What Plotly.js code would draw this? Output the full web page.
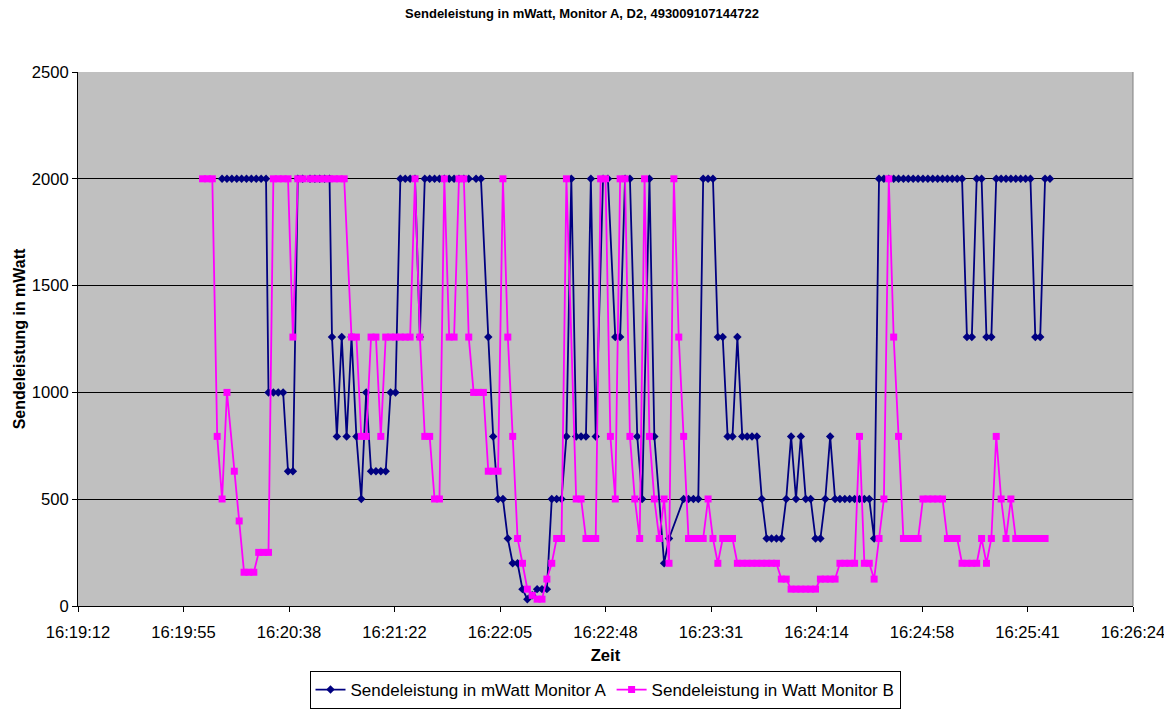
<!DOCTYPE html>
<html>
<head>
<meta charset="utf-8">
<script src="https://cdn.plot.ly/plotly-3.0.1.min.js"></script>
<style>
html,body{margin:0;padding:0;background:#fff;}
#chart{width:1164px;height:711px;}
</style>
</head>
<body>
<div id="chart"></div>
<script>
// X-axis tick labels (Excel date axis, step 43.2 s)
const xTickLabels = ["16:19:12","16:19:55","16:20:38","16:21:22","16:22:05","16:22:48","16:23:31","16:24:14","16:24:58","16:25:41","16:26:24"];
const yTickValues = [0, 500, 1000, 1500, 2000, 2500];

// Series A: Sendeleistung in mWatt Monitor A
const timeA = [
"16:20:11","16:20:13","16:20:15","16:20:17","16:20:19","16:20:21","16:20:23","16:20:25","16:20:27","16:20:29",
"16:20:30","16:20:32","16:20:34","16:20:36",
"16:20:38","16:20:40",
"16:20:42","16:20:44","16:20:47","16:20:49","16:20:51","16:20:53","16:20:55",
"16:20:56","16:20:58","16:21:00","16:21:02","16:21:04","16:21:06","16:21:08","16:21:10",
"16:21:12","16:21:14","16:21:16","16:21:18",
"16:21:20","16:21:22",
"16:21:24","16:21:26","16:21:28","16:21:30",
"16:21:32",
"16:21:34","16:21:36","16:21:38","16:21:40","16:21:42","16:21:44","16:21:46","16:21:48","16:21:50","16:21:52","16:21:55","16:21:57",
"16:22:00","16:22:02","16:22:04","16:22:06","16:22:08","16:22:10","16:22:12","16:22:14","16:22:16","16:22:18",
"16:22:20","16:22:22","16:22:24","16:22:26","16:22:28","16:22:30","16:22:32","16:22:34","16:22:36","16:22:38",
"16:22:40","16:22:42","16:22:44","16:22:47","16:22:49","16:22:52","16:22:54","16:22:56","16:22:58",
"16:23:01","16:23:03","16:23:06","16:23:08","16:23:12","16:23:14",
"16:23:20","16:23:22","16:23:24","16:23:26",
"16:23:28","16:23:30","16:23:32",
"16:23:34","16:23:36","16:23:38","16:23:40","16:23:42",
"16:23:44","16:23:46","16:23:48","16:23:50","16:23:52",
"16:23:54","16:23:56","16:23:58","16:24:00",
"16:24:02","16:24:04","16:24:06","16:24:08","16:24:10","16:24:12","16:24:14","16:24:16","16:24:18","16:24:20",
"16:24:22","16:24:24","16:24:26","16:24:28","16:24:30","16:24:32","16:24:34","16:24:36",
"16:24:38",
"16:24:40","16:24:42","16:24:44","16:24:46","16:24:48","16:24:50","16:24:52","16:24:54","16:24:56","16:24:58",
"16:25:00","16:25:02","16:25:04","16:25:06","16:25:08","16:25:10","16:25:12","16:25:14",
"16:25:16","16:25:18","16:25:20","16:25:22","16:25:24","16:25:26",
"16:25:28","16:25:30","16:25:32","16:25:34","16:25:36","16:25:38","16:25:40","16:25:42",
"16:25:44","16:25:46","16:25:48","16:25:50"
];
const valuesA = [
2000,2000,2000,2000,2000,2000,2000,2000,2000,2000,
1000,1000,1000,1000,
631,631,
2000,2000,2000,2000,2000,2000,2000,
1259,794,1259,794,1259,794,501,1000,
631,631,631,631,
1000,1000,
2000,2000,2000,2000,
1259,
2000,2000,2000,2000,2000,2000,2000,2000,2000,2000,2000,2000,
1259,794,501,501,316,200,200,79,32,50,
79,79,79,501,501,501,794,2000,794,794,
794,2000,794,2000,2000,1259,1259,2000,2000,
794,501,2000,794,200,316,
501,501,501,501,
2000,2000,2000,
1259,1259,794,794,1259,
794,794,794,794,501,
316,316,316,316,
501,794,501,794,501,501,316,316,501,794,
501,501,501,501,501,501,501,501,
316,
2000,2000,2000,2000,2000,2000,2000,2000,2000,2000,
2000,2000,2000,2000,2000,2000,2000,2000,
1259,1259,2000,2000,1259,1259,
2000,2000,2000,2000,2000,2000,2000,2000,
1259,1259,2000,2000
];

// Series B: Sendeleistung in Watt Monitor B
const timeB = [
"16:20:03","16:20:05","16:20:07","16:20:09","16:20:11","16:20:13","16:20:16","16:20:18",
"16:20:20","16:20:22","16:20:24","16:20:26","16:20:28","16:20:30",
"16:20:32","16:20:34","16:20:36","16:20:38","16:20:40",
"16:20:42","16:20:44","16:20:47","16:20:49","16:20:51","16:20:53","16:20:55","16:20:57","16:20:59","16:21:01",
"16:21:04","16:21:06","16:21:08","16:21:10","16:21:12","16:21:14","16:21:16",
"16:21:18","16:21:20","16:21:22","16:21:24","16:21:26","16:21:28",
"16:21:30","16:21:32","16:21:34","16:21:36","16:21:38","16:21:40","16:21:42","16:21:44","16:21:46","16:21:48","16:21:50","16:21:52",
"16:21:54","16:21:56","16:21:58","16:22:00","16:22:02","16:22:04",
"16:22:06","16:22:08","16:22:10","16:22:12","16:22:14","16:22:16","16:22:18","16:22:20","16:22:22","16:22:24","16:22:26","16:22:28","16:22:30",
"16:22:32","16:22:36","16:22:38","16:22:40","16:22:42","16:22:44","16:22:46","16:22:48","16:22:50","16:22:52","16:22:54","16:22:56","16:22:58",
"16:23:00","16:23:02","16:23:04","16:23:06","16:23:08","16:23:10","16:23:12","16:23:14","16:23:16","16:23:18","16:23:20",
"16:23:22","16:23:24","16:23:26","16:23:28","16:23:30","16:23:32","16:23:34","16:23:36","16:23:38","16:23:40",
"16:23:42","16:23:44","16:23:46","16:23:48","16:23:50","16:23:52","16:23:54","16:23:56","16:23:58",
"16:24:00","16:24:02","16:24:04","16:24:06","16:24:08","16:24:10","16:24:12","16:24:14",
"16:24:16","16:24:18","16:24:20","16:24:22","16:24:24","16:24:26","16:24:28","16:24:30",
"16:24:32","16:24:34","16:24:36","16:24:38","16:24:40","16:24:42","16:24:44","16:24:46","16:24:48",
"16:24:50","16:24:52","16:24:54","16:24:56","16:24:58","16:25:00","16:25:02","16:25:04","16:25:06",
"16:25:08","16:25:10","16:25:12","16:25:14","16:25:16","16:25:18","16:25:20",
"16:25:22","16:25:24","16:25:26","16:25:28","16:25:30","16:25:32","16:25:34",
"16:25:36","16:25:38","16:25:40","16:25:42","16:25:44","16:25:46","16:25:48"
];
const valuesB = [
2000,2000,2000,794,501,1000,631,398,
158,158,158,251,251,251,
2000,2000,2000,2000,1259,
2000,2000,2000,2000,2000,2000,2000,2000,2000,2000,
1259,1259,794,794,1259,1259,794,
1259,1259,1259,1259,1259,1259,
2000,1259,794,794,501,501,2000,1259,1259,2000,2000,1259,
1000,1000,1000,631,631,631,
2000,1259,794,316,200,79,50,32,32,126,200,316,316,
2000,501,501,316,316,316,2000,2000,794,501,2000,2000,794,
501,316,2000,794,501,316,501,200,2000,1259,794,
316,316,316,316,501,316,200,316,316,316,
200,200,200,200,200,200,200,200,200,
126,126,79,79,79,79,79,79,
126,126,126,126,200,200,200,200,
794,200,200,126,316,501,2000,1259,794,
316,316,316,316,501,501,501,501,501,
316,316,316,200,200,200,200,
316,200,316,794,501,316,501,
316,316,316,316,316,316,316
];

function toSec(t){ const p = t.split(':').map(Number); return p[0]*3600 + p[1]*60 + p[2]; }

const xStart = toSec(xTickLabels[0]);
const xEnd = toSec(xTickLabels[xTickLabels.length-1]);
const nTicks = xTickLabels.length - 1;
const xTickVals = xTickLabels.map((_, i) => i === nTicks ? xEnd : xStart + (xEnd - xStart) * i / nTicks);

const FONT = 'Arial, "Liberation Sans", Helvetica, sans-serif';

const traceA = {
  x: timeA.map(toSec), y: valuesA,
  type: 'scatter', mode: 'lines+markers',
  name: 'Sendeleistung in mWatt Monitor A',
  line: {color: '#000080', width: 1.8},
  marker: {symbol: 'diamond', size: 6.5, color: '#000080', line: {width: 0}}
};
const traceB = {
  x: timeB.map(toSec), y: valuesB,
  type: 'scatter', mode: 'lines+markers',
  name: 'Sendeleistung in Watt Monitor B',
  line: {color: '#FF00FF', width: 1.8},
  marker: {symbol: 'square', size: 7, color: '#FF00FF', line: {width: 0}}
};

const layout = {
  width: 1164, height: 711,
  margin: {l: 78, r: 31, t: 72, b: 105},
  paper_bgcolor: '#ffffff',
  plot_bgcolor: '#C0C0C0',
  font: {family: FONT, size: 16, color: '#000'},
  title: {
    text: '<b>Sendeleistung in mWatt, Monitor A, D2, 493009107144722</b>',
    font: {family: FONT, size: 13, color: '#000'},
    x: 0.5, xref: 'container', xanchor: 'center',
    y: 1 - 13/711, yref: 'container', yanchor: 'middle'
  },
  xaxis: {
    range: [xStart, xEnd],
    tickmode: 'array', tickvals: xTickVals, ticktext: xTickLabels,
    ticks: 'outside', ticklen: 5, tickcolor: '#000', tickwidth: 1,
    ticklabelstandoff: 6,
    ticklabeloverflow: 'allow',
    showgrid: false, zeroline: false,
    showline: true, linecolor: '#000', linewidth: 1,
    tickfont: {family: FONT, size: 16.6, color: '#000'},
    title: {text: '<b>Zeit</b>', font: {family: FONT, size: 16.6, color: '#000'}, standoff: 8},
    automargin: false
  },
  yaxis: {
    range: [0, 2500],
    tickmode: 'array', tickvals: yTickValues,
    ticks: 'outside', ticklen: 5, tickcolor: '#000', tickwidth: 1,
    showgrid: true, gridcolor: '#000', gridwidth: 1,
    zeroline: false,
    showline: true, linecolor: '#000', linewidth: 1,
    tickfont: {family: FONT, size: 16.6, color: '#000'},
    title: {text: '<b>Sendeleistung in mWatt</b>', font: {family: FONT, size: 16, color: '#000'}, standoff: 2},
    automargin: false
  },
  shapes: [
    {type: 'line', xref: 'paper', yref: 'paper', x0: 1, x1: 1, y0: 0, y1: 1, line: {color: '#808080', width: 1}}
  ],
  showlegend: true,
  legend: {
    orientation: 'h',
    x: 605/1164, xanchor: 'center', xref: 'container',
    y: 1 - 709/711, yanchor: 'bottom', yref: 'container',
    bordercolor: '#000', borderwidth: 1, bgcolor: '#fff',
    font: {family: FONT, size: 17, color: '#000'},
    itemwidth: 30, tracegroupgap: 0
  }
};

Plotly.newPlot('chart', [traceA, traceB], layout, {staticPlot: true, displayModeBar: false});
</script>
</body>
</html>
